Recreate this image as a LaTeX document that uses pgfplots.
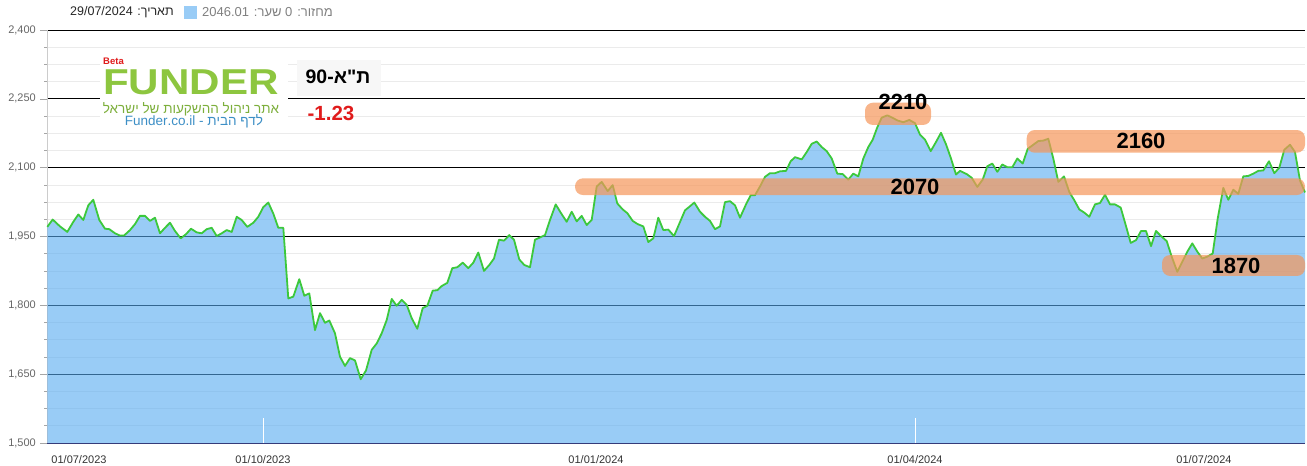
\documentclass[border=0pt]{standalone}
\usepackage{pgfplots}
\pgfplotsset{compat=1.18}
\usepackage{pgfplotstable}
\usepackage{fontspec}
\setmainfont{Liberation Sans}
\newfontfamily\hebfont[Script=Hebrew]{Liberation Sans}
\TeXXeTstate=1
\definecolor{fillc}{RGB}{85,170,240}
\definecolor{legc}{RGB}{153,204,246}
\definecolor{linec}{RGB}{60,200,60}
\definecolor{bandc}{RGB}{245,150,90}
\definecolor{logog}{RGB}{141,198,63}
\definecolor{logot}{RGB}{125,175,60}
\definecolor{logob}{RGB}{61,143,198}
\definecolor{redc}{RGB}{224,27,27}
\pgfplotstableread{
x y
47.3 1971
52.7 1987
60 1972
67.3 1960
73.3 1982
78.3 1998
83.3 1986
88.3 2018
93.3 2030
99.3 1986
105 1967
109.3 1966
115 1957
120 1952
124 1952
130 1964
135 1977
140 1995
145 1995
150 1984
155 1991
160 1957
165 1969
170 1980
175 1962
180.7 1946
186 1955
191 1967
196.7 1959
201.7 1957
206.7 1966
211.7 1969
216.7 1951
221.7 1957
226.7 1964
231.7 1960
236.7 1993
241.7 1986
247.3 1971
253.3 1980
258.3 1993
263.3 2014
268.3 2024
273.3 2000
278.3 1969
283.3 1969
288.3 1815
293.3 1819
299.3 1857
304.3 1821
309.3 1826
315 1746
320 1783
325 1762
329.3 1767
335 1739
340 1688
345 1668
350 1685
355 1680
360.7 1639
366 1658
371.7 1703
376.7 1717
381.7 1739
386.7 1768
391.7 1814
396.7 1799
401.7 1812
406.7 1801
411.7 1772
417.3 1749
422.7 1794
427.3 1799
432.7 1832
437.3 1833
441.7 1842
447.3 1849
452.3 1881
457.3 1883
462.7 1893
468.3 1881
473.3 1893
478.3 1915
484 1875
489.3 1888
494 1902
499 1943
504 1941
509.3 1953
514 1943
519.3 1900
524.3 1888
530 1883
535 1943
540 1948
545 1953
550 1986
555.7 2020
561 2001
566.7 1982
571.7 2004
576.7 1983
581.7 1995
586.7 1975
591.7 1986
596.7 2059
601.7 2069
607.7 2049
612.7 2062
617.3 2022
622.7 2009
627.3 2001
632.7 1984
637.7 1977
643.3 1972
648.3 1938
653.3 1946
658.3 1991
663.3 1964
668.3 1965
674 1951
679.3 1978
685 2007
690 2016
694.3 2024
700 2004
705 1993
710 1984
715 1966
720 1972
725 2025
730 2027
735 2018
740 1991
746 2020
750.7 2040
755 2040
760 2059
765 2080
770 2088
775 2088
780 2092
786 2093
790.7 2114
795 2123
801.7 2118
806.7 2134
811.7 2152
816.7 2157
821.7 2145
826.7 2136
831.7 2120
837.3 2087
842.7 2086
848.3 2074
853.3 2087
858.3 2081
863.3 2120
868.3 2145
872.7 2161
877.3 2188
881.7 2209
887.3 2214
892.3 2209
897.3 2203
903.3 2199
909.3 2204
915 2197
920 2172
925 2161
930.7 2136
936 2156
941 2176
946 2151
951 2120
956 2085
960 2093
966.7 2086
971.7 2078
977.3 2058
982.7 2074
987.3 2103
992.3 2109
997.3 2091
1002.3 2107
1007.3 2101
1012.3 2101
1017.3 2120
1022.7 2109
1027.7 2141
1032.7 2149
1038.3 2158
1043.3 2159
1048.3 2163
1053.3 2120
1058.3 2069
1064 2081
1069.3 2047
1074.3 2029
1079.3 2009
1084.3 2002
1089.3 1993
1095 2020
1100 2023
1105 2041
1110 2020
1115 2020
1120.7 2013
1125.7 1975
1130.7 1936
1136 1942
1141 1962
1146 1962
1151 1929
1156 1962
1161 1951
1166.7 1940
1171.7 1906
1177.3 1873
1182.3 1895
1187.3 1917
1192.3 1935
1197.3 1917
1202.3 1902
1207.3 1906
1212.7 1913
1217.7 1989
1223.3 2056
1228.3 2030
1233.3 2052
1238.3 2043
1243.3 2081
1248.3 2082
1253.3 2087
1258.3 2093
1263.3 2094
1269 2114
1274.3 2088
1279.3 2100
1284.3 2139
1290 2150
1295 2134
1300 2072
1305 2046
}\data
\begin{document}
\begin{tikzpicture}
\begin{axis}[
  scale only axis, width=1258pt, height=413pt,
  xmin=47, xmax=1305, ymin=1500, ymax=2400,
  clip=false,
  axis x line*=bottom, axis y line*=left,
  x axis line style={draw=black!60!blue!60!gray, line width=0.8pt, -},
  y axis line style={draw=black!20, line width=0.8pt, -},
  xtick={79,263,596,915,1204},
  xticklabels={01/07/2023,01/10/2023,01/01/2024,01/04/2024,01/07/2024},
  x tick style={draw=none},
  xticklabel style={font=\fontsize{11}{13}\selectfont, text=black!80, anchor=north, inner sep=0pt, yshift=-5pt},
  ytick={1500,1650,1800,1950,2100,2250,2400},
  yticklabels={{1,500},{1,650},{1,800},{1,950},{2,100},{2,250},{2,400}},
  yticklabel style={font=\fontsize{11}{13}\selectfont, text=black!60, anchor=east, inner sep=0pt, xshift=-4pt},
  y tick style={draw=black!35, line width=0.6pt},
  tick align=outside, major tick length=7pt,
  minor y tick num=3,
  ymajorgrids, yminorgrids,
  major grid style={draw=black, line width=0.9pt},
  minor grid style={draw=black!8, line width=0.7pt},
  /pgf/number format/assume math mode=true,
]
\addplot[draw=none, fill=fillc, fill opacity=0.6] table[x=x,y=y] {\data} \closedcycle;
\addplot[linec, line width=1.8pt, line join=round] table[x=x,y=y] {\data};
% white tick marks inside the fill
\draw[white, line width=1pt] (axis cs:263,1500) -- (axis cs:263,1555);
\draw[white, line width=1pt] (axis cs:915,1500) -- (axis cs:915,1555);
% highlight bands
\fill[bandc, opacity=0.7, rounded corners=8pt] (axis cs:575,2076.8) rectangle (axis cs:1305,2040.4);
\fill[bandc, opacity=0.7, rounded corners=8pt] (axis cs:865,2241.6) rectangle (axis cs:931,2193);
\fill[bandc, opacity=0.7, rounded corners=8pt] (axis cs:1026.7,2182) rectangle (axis cs:1305,2132.6);
\fill[bandc, opacity=0.7, rounded corners=8pt] (axis cs:1162,1909.7) rectangle (axis cs:1305,1864);
\node[font=\fontsize{22}{24}\selectfont\bfseries] at (axis cs:915,2057.9) {2070};
\node[font=\fontsize{22}{24}\selectfont\bfseries] at (axis cs:903,2243) {2210};
\node[font=\fontsize{22}{24}\selectfont\bfseries] at (axis cs:1141,2158) {2160};
\node[font=\fontsize{22}{24}\selectfont\bfseries] at (axis cs:1236,1885.7) {1870};
% header
\node[anchor=west, inner sep=0pt, font=\fontsize{12.5}{14}\selectfont, text=black!85] at (axis cs:70,2439.2) {\hebfont\beginR תאריך: \beginL 29/07/2024\endL\endR};
\fill[legc] (axis cs:184,2452.3) rectangle (axis cs:197,2424);
\node[anchor=west, inner sep=0pt, font=\fontsize{13}{15}\selectfont, text=black!50] at (axis cs:202,2439.2) {\hebfont\beginR מחזור: \beginL 0\endL{} שער: \beginL 2046.01\endL\endR};
% logo
\fill[white] (axis cs:100,2341.2) rectangle (axis cs:288,2186.4);
\node[inner sep=0pt, anchor=base, text height=26pt, text depth=0pt, text=logog, font=\fontsize{36}{36}\selectfont\bfseries, xscale=1.17] at (axis cs:191,2258.4) {FUNDER};
\node[anchor=west, inner sep=0pt, text height=7pt, text depth=0pt, text=redc, font=\fontsize{9.5}{10}\selectfont\bfseries] at (axis cs:103,2332) {Beta};
\node[inner sep=0pt, anchor=base, text height=10pt, text depth=3pt, text=logot, font=\fontsize{13.5}{15}\selectfont] at (axis cs:191,2219) {\hebfont\beginR אתר ניהול ההשקעות של ישראל\endR};
\node[inner sep=0pt, anchor=base, text height=10pt, text depth=3pt, text=logob, font=\fontsize{13.5}{15}\selectfont] at (axis cs:194,2192) {\hebfont\beginR לדף הבית - \beginL Funder.co.il\endL\endR};
\fill[black!3] (axis cs:297,2334.6) rectangle (axis cs:381,2256.2);
\node[inner sep=0pt, font=\fontsize{19.5}{21}\selectfont\bfseries] at (axis cs:338,2297.6) {\hebfont\bfseries\beginR ת"א-\beginL 90\endL\endR};
\node[inner sep=0pt, text=redc, font=\fontsize{20.5}{22}\selectfont\bfseries] at (axis cs:331,2219.1) {-1.23};
\coordinate (BL) at (axis cs:0,1452);
\coordinate (TR) at (axis cs:1307,2465.4);
\end{axis}
\pgfresetboundingbox
\path (BL) rectangle (TR);
\end{tikzpicture}
\end{document}
